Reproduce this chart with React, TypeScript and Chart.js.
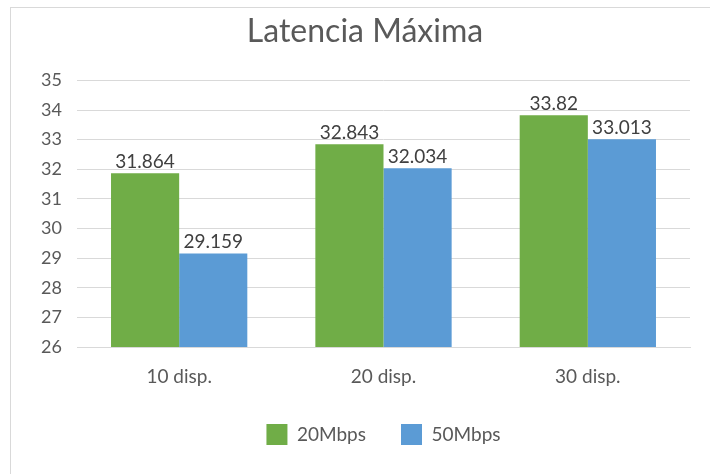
import React, { useEffect, useRef } from "react";
import { Chart, registerables } from "chart.js";

Chart.register(...registerables);

const categories = ["10 disp.", "20 disp.", "30 disp."];
const series20 = [31.864, 32.843, 33.82];
const series50 = [29.159, 32.034, 33.013];
const seriesNames = ["20Mbps", "50Mbps"];
const yTicks = [26, 27, 28, 29, 30, 31, 32, 33, 34, 35];

const FONT = "Lato, 'Open Sans', sans-serif";

const dataLabelPlugin = {
  id: "dataLabels",
  afterDatasetsDraw(chart: any) {
    const ctx = chart.ctx;
    ctx.save();
    ctx.font = `19px ${FONT}`;
    ctx.fillStyle = "#404040";
    ctx.textAlign = "center";
    ctx.textBaseline = "alphabetic";
    chart.data.datasets.forEach((ds: any, di: number) => {
      const meta = chart.getDatasetMeta(di);
      meta.data.forEach((bar: any, i: number) => {
        ctx.fillText(String(ds.data[i]), bar.x, bar.y - 5);
      });
    });
    ctx.restore();
  },
};

export default function App() {
  const ref = useRef<HTMLCanvasElement>(null);
  useEffect(() => {
    if (!ref.current) return;
    const chart = new Chart(ref.current, {
      type: "bar",
      data: {
        labels: categories,
        datasets: [
          {
            label: seriesNames[0],
            data: series20,
            backgroundColor: "#70AD47",
            borderWidth: 0,
            categoryPercentage: 0.667,
            barPercentage: 1,
          },
          {
            label: seriesNames[1],
            data: series50,
            backgroundColor: "#5B9BD5",
            borderWidth: 0,
            categoryPercentage: 0.667,
            barPercentage: 1,
          },
        ],
      },
      options: {
        animation: false,
        responsive: false,
        maintainAspectRatio: false,
        layout: { padding: { top: 0, left: 40, right: 20, bottom: 19 } },
        plugins: {
          title: {
            display: true,
            text: "Latencia Máxima",
            color: "#595959",
            font: { family: FONT, size: 32, weight: "normal" },
            padding: { top: 12, bottom: 30 },
          },
          legend: {
            position: "bottom",
            fullSize: false,
            labels: {
              color: "#595959",
              font: { family: FONT, size: 19 },
              boxWidth: 21,
              boxHeight: 21,
              padding: 35,
            },
          },
          tooltip: { enabled: false },
        },
        scales: {
          x: {
            grid: { display: false },
            border: { display: true, color: "#d9d9d9" },
            ticks: { color: "#595959", font: { family: FONT, size: 19 }, padding: 10 },
            afterFit: (s: any) => {
              s.height = 42;
            },
          },
          y: {
            min: 26,
            max: 35,
            afterBuildTicks: (s: any) => {
              s.ticks = yTicks.map((v) => ({ value: v }));
            },
            grid: { color: "#d9d9d9", drawTicks: false },
            border: { display: false },
            ticks: { color: "#595959", font: { family: FONT, size: 18 }, padding: 15 },
            afterFit: (s: any) => {
              s.width = 37;
            },
          },
        },
      },
      plugins: [dataLabelPlugin],
    });
    return () => chart.destroy();
  }, []);

  return (
    <div style={{ position: "fixed", left: 0, top: 0, width: 710, height: 474, overflow: "hidden", background: "#fff" }}>
      <div
        style={{
          position: "absolute",
          left: 10,
          top: 7,
          width: 720,
          height: 480,
          border: "1px solid #d9d9d9",
        }}
      />
      <canvas ref={ref} width={710} height={474} style={{ position: "absolute", left: 0, top: 0 }} />
    </div>
  );
}
